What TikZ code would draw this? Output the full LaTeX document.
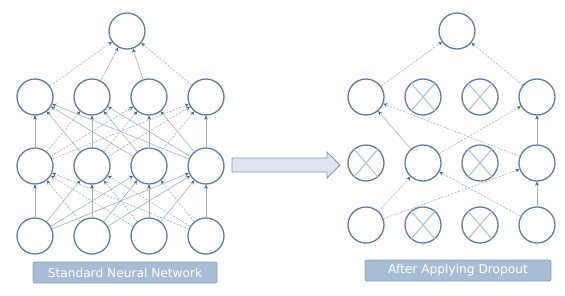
\documentclass[tikz,border=0pt]{standalone}
\usepackage{fontspec}
\setmainfont{DejaVu Sans}
\usetikzlibrary{arrows.meta}
\definecolor{ring}{HTML}{5B7FA6}
\definecolor{wire}{HTML}{9DB3CD}
\definecolor{tip}{HTML}{3F6A99}
\definecolor{cross}{HTML}{A9BFD7}
\definecolor{tagfill}{HTML}{A7BDD6}
\definecolor{tagline}{HTML}{86A3C3}
\definecolor{blockfill}{HTML}{DCE5EF}
\definecolor{blockline}{HTML}{7E9BBB}
\begin{document}
\begin{tikzpicture}[x=1pt,y=-1pt,
  neuron/.style={circle, draw=ring, line width=1.3pt, minimum size=36pt, inner sep=0pt},
  link/.style={draw=wire, line width=0.6pt, -{Stealth[length=4pt,width=3.8pt,color=tip]}},
  dlink/.style={link, dash pattern=on 2.2pt off 1.4pt},
  crossline/.style={draw=cross, line width=1pt},
  tag/.style={rectangle, rounded corners=2pt, fill=tagfill, draw=tagline, line width=0.8pt,
    minimum width=184pt, minimum height=21pt, inner sep=0pt, text=white,
    font=\fontsize{12.2}{13}\selectfont}]
\useasboundingbox (0,0) rectangle (565,295);

% ---------- standard network ----------
\node[neuron] (a0) at (127,31) {};
\foreach \k/\x in {1/35,2/92,3/149,4/206} {
  \node[neuron] (a1\k) at (\x,97) {};
  \node[neuron] (a2\k) at (\x,166) {};
  \node[neuron] (a3\k) at (\x,236) {};
}
\draw[dlink] (a11) -- (a0);
\draw[link]  (a12) -- (a0);
\draw[link]  (a13) -- (a0);
\draw[dlink] (a14) -- (a0);
\foreach \s in {1,...,4} {
  \foreach \t in {1,...,4} {
    \ifnum\t>\s \tikzset{cur/.style={dlink}}\else\tikzset{cur/.style={link}}\fi
    \draw[cur] (a2\s) -- (a1\t);
    \ifnum\t<\s \tikzset{cur/.style={dlink}}\else\tikzset{cur/.style={link}}\fi
    \draw[cur] (a3\s) -- (a2\t);
  }
}
\node[tag] (lblA) at (125,272.5) {Standard Neural Network};

% ---------- block arrow ----------
\draw[fill=blockfill, draw=blockline, line width=0.9pt, line join=miter]
  (232,158) -- (327,158) -- (327,152) -- (340,165) -- (327,178) -- (327,172) -- (232,172) -- cycle;

% ---------- thinned network ----------
\node[neuron] (b0) at (457,31) {};
\foreach \k/\x in {1/366,2/423,3/480,4/537} {
  \node[neuron] (b1\k) at (\x,97) {};
  \node[neuron] (b2\k) at (\x,163) {};
  \node[neuron] (b3\k) at (\x,225) {};
}
\foreach \n in {b12,b13,b21,b23,b32,b33} {
  \draw[crossline] ([shift={(-1pt,1pt)}]\n.45) -- ([shift={(1pt,-1pt)}]\n.225);
  \draw[crossline] ([shift={(1pt,1pt)}]\n.135) -- ([shift={(-1pt,-1pt)}]\n.315);
}
\draw[dlink] (b11) -- (b0);
\draw[dlink] (b14) -- (b0);
\draw[link]  (b22) -- (b11);
\draw[dlink] (b24) -- (b11);
\draw[dlink] (b22) -- (b14);
\draw[link]  (b24) -- (b14);
\draw[dlink] (b31) -- (b22);
\draw[dlink] (b34) -- (b22);
\draw[dlink] (b31) -- (b24);
\draw[link]  (b34) -- (b24);
\node[tag, minimum width=186pt] (lblB) at (458,270.5) {After Applying Dropout};
\end{tikzpicture}
\end{document}
